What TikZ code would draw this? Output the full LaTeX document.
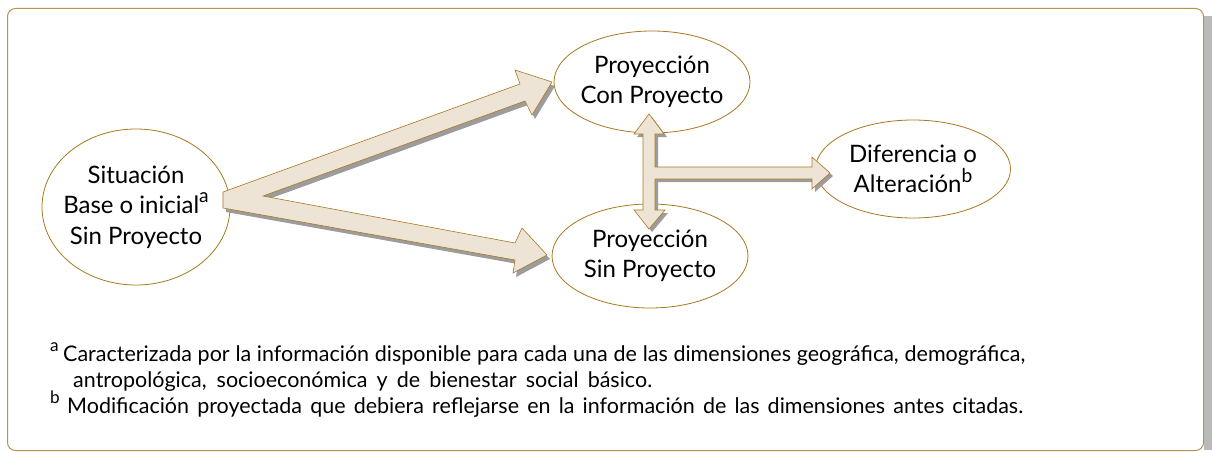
\documentclass[tikz,border=0pt]{standalone}
\usepackage{fontspec}
\setmainfont{Lato}
\usetikzlibrary{shapes.geometric}
\definecolor{gold}{HTML}{A8781E}
\definecolor{beige}{HTML}{EEE4D6}
\definecolor{shad}{HTML}{9C9C9C}
\tikzset{
  ell/.style={ellipse, draw=gold, line width=0.8pt, fill=white, inner sep=0pt},
  etext/.style={align=center, inner sep=0pt, font=\fontsize{24}{30.5}\selectfont},
  blk/.style={draw=gold, fill=beige, line width=0.6pt, line join=miter},
  blkshadow/.style={fill=shad},
  note/.style={anchor=base west, inner sep=0pt, font=\fontsize{21.5}{26}\selectfont}
}
\newcommand{\mysup}[1]{\raisebox{0.45em}{\fontsize{0.8em}{1em}\selectfont #1}}
\begin{document}
\begin{tikzpicture}[x=1pt,y=-1pt]
\useasboundingbox (0,0) rectangle (1212,452);
% frame shadow
\fill[shad!70] (1204,16) rectangle (1212,450);
\draw[gold!80, line width=1pt, rounded corners=8pt] (7.5,8.5) rectangle (1203.5,450.5);
% ellipses
\node[ell, minimum width=188pt, minimum height=156pt] (sit) at (136,207) {};
\node[etext] (sitt) at (sit) {Situación\\Base o inicial\mysup{a}\\Sin Proyecto};
\node[ell, minimum width=196pt, minimum height=102pt] (con) at (652,82) {};
\node[etext] (cont) at (con) {Proyección\\Con Proyecto};
\node[ell, minimum width=196pt, minimum height=104pt] (sin) at (650,256) {};
\node[etext] (sint) at (sin) {Proyección\\Sin Proyecto};
\node[ell, minimum width=195pt, minimum height=98pt] (dif) at (913,169) {};
\node[etext] (dift) at (dif) {Diferencia o\\Alteración\mysup{b}};
% V arrow
\def\vpath{(223,192) -- (520,84) -- (515,70) -- (552,82) -- (532,115) -- (525,101) -- (263,196) -- (515,243) -- (522,228) -- (547,255) -- (513,273) -- (515,260) -- (223,208) -- cycle}
\fill[blkshadow, shift={(3,4)}] \vpath;
\draw[blk] \vpath;
% T arrow
\def\tpath{(649,114) -- (664,134) -- (655,134) -- (655,167) -- (812,167) -- (812,157) -- (830,173) -- (812,189) -- (812,179) -- (655,179) -- (655,210) -- (665,210) -- (649,229) -- (634,210) -- (643,210) -- (643,134) -- (634,134) -- cycle}
\fill[blkshadow, shift={(3,3)}] \tpath;
\draw[blk] \tpath;
% notes
\node[note] (n1a) at (50,361) {\mysup{a}};
\node[note] (n1) at (63,361) {\makebox[962pt][s]{Caracterizada por la información disponible para cada una de las dimensiones geográfica, demográfica,}};
\node[note] (n2) at (73,387) {\makebox[579pt][s]{antropológica, socioeconómica y de bienestar social básico.}};
\node[note] (n3a) at (50,413) {\mysup{b}};
\node[note] (n3) at (67,413) {\makebox[956pt][s]{Modificación proyectada que debiera reflejarse en la información de las dimensiones antes citadas.}};
\end{tikzpicture}
\end{document}
